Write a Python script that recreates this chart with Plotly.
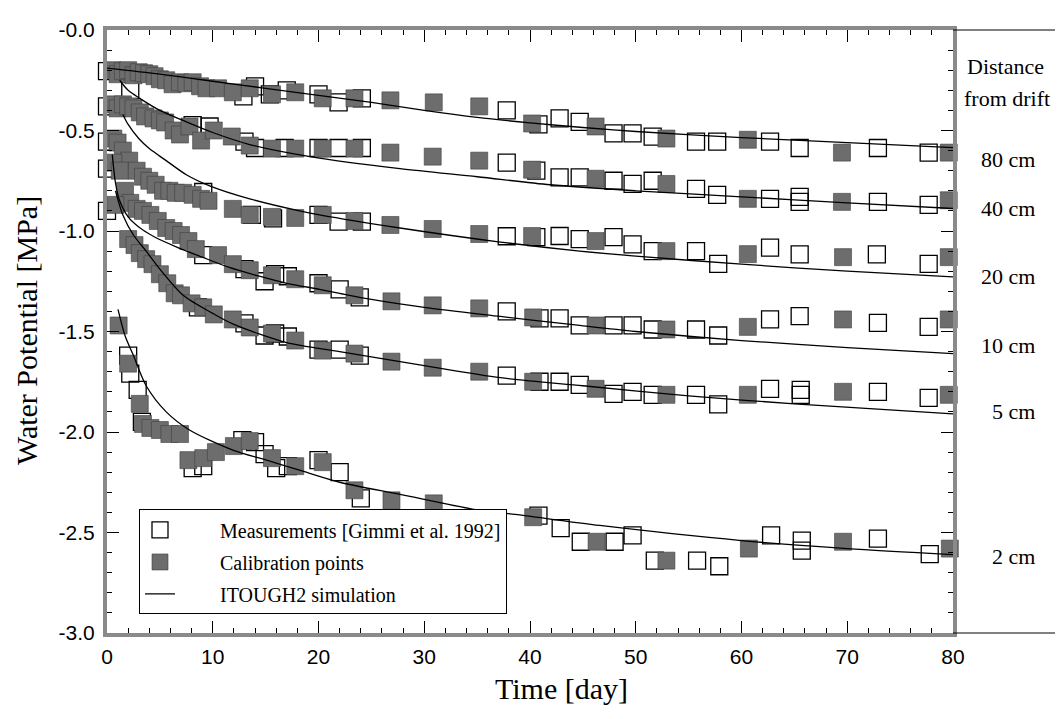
import plotly.graph_objects as go

# ---------------- data ----------------
distances = ["80 cm", "40 cm", "20 cm", "10 cm", "5 cm", "2 cm"]

# 80 cm
meas_t_80 = [0.0, 2.2, 12.9, 14.0, 15.4, 17.0, 20.0, 21.9, 24.1, 37.8, 40.8, 42.8, 44.7, 47.9, 49.7, 51.6, 55.7, 57.7, 62.7, 65.5, 72.9, 77.7]
meas_v_80 = [-0.205, -0.30, -0.33, -0.28, -0.32, -0.30, -0.32, -0.36, -0.34, -0.40, -0.47, -0.44, -0.457, -0.514, -0.514, -0.53, -0.555, -0.555, -0.555, -0.587, -0.587, -0.61]
calib_t_80 = [0.5, 1.0, 1.5, 2.0, 2.5, 3.0, 3.5, 4.0, 4.5, 5.0, 5.6, 6.2, 6.9, 7.5, 8.1, 8.8, 9.4, 10.5, 11.9, 13.5, 15.6, 17.8, 20.4, 23.4, 26.8, 30.9, 35.2, 40.2, 46.2, 52.9, 60.6, 69.5, 79.6]
calib_v_80 = [-0.20, -0.22, -0.205, -0.20, -0.225, -0.21, -0.215, -0.22, -0.23, -0.245, -0.25, -0.27, -0.26, -0.265, -0.26, -0.28, -0.29, -0.29, -0.31, -0.29, -0.32, -0.31, -0.34, -0.34, -0.35, -0.36, -0.38, -0.465, -0.48, -0.54, -0.546, -0.61, -0.61]
sim_t_80 = [0, 5, 10, 15, 20, 25, 30, 35, 40, 45, 50, 60, 70, 80]
sim_v_80 = [-0.19, -0.22, -0.255, -0.29, -0.325, -0.36, -0.40, -0.435, -0.462, -0.485, -0.505, -0.535, -0.56, -0.585]

# 40 cm
meas_t_40 = [0.0, 8.1, 9.7, 13.0, 14.0, 16.8, 20.0, 21.9, 24.1, 37.8, 40.6, 42.8, 44.7, 47.9, 49.7, 51.6, 55.7, 57.7, 62.7, 65.5, 65.5, 72.9, 77.7]
meas_v_40 = [-0.38, -0.473, -0.48, -0.555, -0.587, -0.587, -0.587, -0.587, -0.587, -0.66, -0.70, -0.733, -0.733, -0.75, -0.766, -0.75, -0.79, -0.82, -0.84, -0.83, -0.855, -0.855, -0.87]
calib_t_40 = [0.5, 1.0, 1.5, 2.0, 2.5, 3.1, 3.6, 4.4, 5.0, 5.5, 6.3, 6.9, 7.8, 8.9, 10.1, 11.8, 13.5, 15.6, 17.8, 20.4, 23.4, 26.8, 30.8, 35.2, 40.2, 46.2, 52.9, 60.6, 69.5, 79.6]
calib_v_40 = [-0.37, -0.39, -0.37, -0.38, -0.39, -0.41, -0.43, -0.44, -0.45, -0.46, -0.50, -0.52, -0.48, -0.55, -0.50, -0.53, -0.575, -0.59, -0.59, -0.59, -0.59, -0.61, -0.63, -0.65, -0.695, -0.74, -0.766, -0.84, -0.855, -0.847]
sim_t_40 = [1.2, 2.0, 3.1, 5.0, 7.2, 10.0, 13.5, 19.2, 27.7, 35.0, 41.9, 50.0, 60.0, 70.0, 80.0]
sim_v_40 = [-0.25, -0.30, -0.34, -0.40, -0.45, -0.51, -0.57, -0.63, -0.69, -0.73, -0.77, -0.80, -0.83, -0.86, -0.888]

# 20 cm
meas_t_20 = [0.0, 9.1, 13.7, 15.7, 20.0, 21.9, 24.1, 37.8, 40.6, 42.8, 44.7, 47.9, 49.7, 51.6, 55.7, 57.8, 62.7, 65.5, 72.8, 77.7]
meas_v_20 = [-0.555, -0.806, -0.92, -0.937, -0.92, -0.953, -0.953, -1.026, -1.03, -1.025, -1.04, -1.03, -1.067, -1.10, -1.10, -1.164, -1.083, -1.116, -1.116, -1.164]
calib_t_20 = [0.6, 1.0, 1.5, 2.1, 2.8, 3.4, 4.0, 4.6, 5.3, 5.9, 6.5, 7.2, 8.1, 8.9, 9.6, 11.9, 13.5, 15.6, 17.8, 20.4, 23.4, 26.8, 30.8, 35.2, 40.2, 46.2, 52.9, 60.6, 69.6, 79.6]
calib_v_20 = [-0.54, -0.56, -0.60, -0.65, -0.70, -0.73, -0.75, -0.77, -0.80, -0.80, -0.81, -0.81, -0.82, -0.84, -0.85, -0.89, -0.92, -0.93, -0.935, -0.92, -0.95, -0.97, -0.99, -1.015, -1.025, -1.05, -1.10, -1.115, -1.13, -1.13]
sim_t_20 = [1.5, 2.0, 3.0, 4.0, 5.6, 7.5, 9.7, 13.5, 18.2, 20.1, 27.7, 37.2, 44.7, 50.0, 60.0, 70.0, 80.0]
sim_v_20 = [-0.42, -0.47, -0.54, -0.59, -0.65, -0.72, -0.775, -0.84, -0.90, -0.92, -0.985, -1.055, -1.10, -1.125, -1.165, -1.20, -1.228]

# 10 cm
meas_t_10 = [0.0, 9.1, 13.0, 14.9, 15.9, 17.1, 20.0, 22.0, 23.9, 37.8, 40.9, 42.8, 44.7, 47.9, 49.7, 51.6, 55.7, 57.8, 62.7, 65.5, 72.9, 77.7]
meas_v_10 = [-0.69, -1.12, -1.19, -1.25, -1.215, -1.225, -1.26, -1.29, -1.33, -1.40, -1.435, -1.435, -1.47, -1.47, -1.47, -1.49, -1.49, -1.52, -1.44, -1.424, -1.457, -1.477]
calib_t_10 = [0.6, 1.2, 1.7, 2.2, 2.8, 3.4, 4.1, 4.8, 5.6, 6.3, 7.0, 7.7, 8.4, 10.5, 11.9, 13.5, 15.6, 17.8, 20.4, 23.4, 26.9, 30.8, 35.2, 40.3, 46.2, 52.9, 60.6, 69.6, 79.6]
calib_v_10 = [-0.66, -0.70, -0.80, -0.86, -0.89, -0.90, -0.92, -0.95, -0.985, -1.0, -1.02, -1.05, -1.09, -1.12, -1.165, -1.195, -1.22, -1.24, -1.27, -1.32, -1.35, -1.37, -1.385, -1.43, -1.47, -1.49, -1.477, -1.44, -1.44]
sim_t_10 = [0.5, 0.8, 1.2, 2.0, 3.0, 4.5, 6.6, 9.0, 11.5, 14.4, 17.0, 20.1, 22.0, 25.0, 30.0, 37.2, 44.7, 50.0, 60.0, 70.0, 80.0]
sim_v_10 = [-0.62, -0.76, -0.85, -0.93, -0.98, -1.03, -1.08, -1.13, -1.18, -1.225, -1.26, -1.29, -1.31, -1.34, -1.38, -1.425, -1.47, -1.50, -1.545, -1.58, -1.61]

# 5 cm
meas_t_5 = [0.0, 8.6, 13.0, 14.9, 15.9, 17.1, 20.0, 22.0, 23.9, 37.8, 40.9, 42.8, 44.7, 47.9, 49.7, 51.6, 55.7, 57.8, 62.7, 65.6, 65.6, 72.9, 77.7]
meas_v_5 = [-0.90, -1.38, -1.46, -1.52, -1.51, -1.525, -1.59, -1.59, -1.62, -1.72, -1.75, -1.75, -1.766, -1.81, -1.80, -1.815, -1.815, -1.863, -1.785, -1.79, -1.815, -1.80, -1.83]
calib_t_5 = [0.8, 2.0, 2.6, 3.1, 3.7, 4.3, 5.0, 5.7, 6.4, 7.0, 8.0, 9.1, 10.1, 11.9, 13.5, 15.6, 17.8, 20.4, 23.4, 26.9, 30.8, 35.2, 40.3, 46.2, 52.9, 60.6, 69.6, 79.6]
calib_v_5 = [-0.87, -1.04, -1.07, -1.11, -1.14, -1.165, -1.215, -1.26, -1.31, -1.32, -1.36, -1.38, -1.415, -1.44, -1.48, -1.51, -1.545, -1.595, -1.61, -1.65, -1.68, -1.70, -1.75, -1.785, -1.815, -1.815, -1.80, -1.815]
sim_t_5 = [0.8, 1.5, 2.5, 3.7, 5.0, 7.2, 10.0, 12.0, 17.0, 22.0, 30.0, 37.2, 45.0, 55.0, 65.0, 80.0]
sim_v_5 = [-0.80, -0.92, -1.02, -1.10, -1.19, -1.32, -1.41, -1.465, -1.555, -1.60, -1.67, -1.73, -1.77, -1.82, -1.86, -1.91]

# 2 cm
meas_t_2 = [2.0, 2.2, 2.9, 3.3, 8.1, 9.1, 12.8, 14.0, 14.9, 16.0, 17.1, 20.0, 22.0, 24.0, 40.8, 42.9, 44.8, 48.0, 49.7, 51.8, 55.8, 57.9, 62.8, 65.7, 65.7, 72.9, 77.8]
meas_v_2 = [-1.62, -1.71, -1.79, -1.95, -2.18, -2.17, -2.04, -2.05, -2.11, -2.18, -2.17, -2.14, -2.20, -2.33, -2.416, -2.478, -2.546, -2.546, -2.514, -2.64, -2.64, -2.668, -2.514, -2.54, -2.59, -2.53, -2.608]
calib_t_2 = [1.1, 2.0, 3.1, 3.4, 4.1, 5.0, 5.9, 6.9, 7.7, 9.1, 10.3, 12.0, 13.5, 15.6, 17.8, 20.4, 23.4, 26.9, 30.9, 40.3, 46.3, 52.9, 60.7, 69.6, 79.7]
calib_v_2 = [-1.47, -1.66, -1.86, -1.96, -1.98, -1.99, -2.01, -2.01, -2.14, -2.13, -2.10, -2.07, -2.045, -2.13, -2.17, -2.15, -2.29, -2.34, -2.355, -2.424, -2.546, -2.64, -2.58, -2.546, -2.58]
sim_t_2 = [1.04, 1.7, 2.5, 3.7, 5.6, 7.8, 11.9, 15.1, 18.2, 22.0, 27.7, 35.3, 38.6, 46.6, 60.0, 70.0, 80.0]
sim_v_2 = [-1.39, -1.52, -1.62, -1.77, -1.90, -1.99, -2.09, -2.14, -2.19, -2.25, -2.31, -2.39, -2.41, -2.465, -2.54, -2.58, -2.61]

x_tick_vals = [0, 10, 20, 30, 40, 50, 60, 70, 80]
y_tick_vals = [0, -0.5, -1.0, -1.5, -2.0, -2.5, -3.0]
y_tick_text = ["-0.0", "-0.5", "-1.0", "-1.5", "-2.0", "-2.5", "-3.0"]

series = [
    (meas_t_80, meas_v_80, calib_t_80, calib_v_80, sim_t_80, sim_v_80),
    (meas_t_40, meas_v_40, calib_t_40, calib_v_40, sim_t_40, sim_v_40),
    (meas_t_20, meas_v_20, calib_t_20, calib_v_20, sim_t_20, sim_v_20),
    (meas_t_10, meas_v_10, calib_t_10, calib_v_10, sim_t_10, sim_v_10),
    (meas_t_5, meas_v_5, calib_t_5, calib_v_5, sim_t_5, sim_v_5),
    (meas_t_2, meas_v_2, calib_t_2, calib_v_2, sim_t_2, sim_v_2),
]

# ---------------- figure ----------------
SERIF = "Liberation Serif, Times New Roman, serif"
SANS = "Liberation Sans, Arial, Helvetica, sans-serif"
FILL = "#6d6d6d"
MSIZE = 17
PAD = "\u00a0" * 8

fig = go.Figure()

for i, (mt, mv, ct, cv, st, sv) in enumerate(series):
    fig.add_trace(go.Scatter(
        x=mt, y=mv, mode="markers", name=PAD + "Measurements [Gimmi et al. 1992]",
        legendgroup="meas", legendrank=1, showlegend=(i == 0), cliponaxis=False,
        marker=dict(symbol="square-open", size=MSIZE, color="black", line=dict(width=1.3, color="black")),
    ))
for i, (mt, mv, ct, cv, st, sv) in enumerate(series):
    fig.add_trace(go.Scatter(
        x=ct, y=cv, mode="markers", name=PAD + "Calibration points",
        legendgroup="calib", legendrank=2, showlegend=(i == 0), cliponaxis=False,
        marker=dict(symbol="square", size=MSIZE, color=FILL, line=dict(width=0.6, color="#404040")),
    ))
for i, (mt, mv, ct, cv, st, sv) in enumerate(series):
    fig.add_trace(go.Scatter(
        x=st, y=sv, mode="lines", name=PAD + "ITOUGH2 simulation",
        legendgroup="sim", legendrank=3, showlegend=(i == 0),
        line=dict(color="black", width=1.3, shape="spline", smoothing=0.8),
    ))

axis_common = dict(
    showgrid=False, zeroline=False, showline=True, linecolor="#8a8a8a", linewidth=4,
    mirror="ticks", ticks="inside", tickcolor="black", tickwidth=1,
)

fig.update_xaxes(
    range=[0, 80], tickmode="array", tickvals=x_tick_vals, ticklen=12,
    tickfont=dict(family=SANS, size=21, color="black"), ticklabelstandoff=2,
    minor=dict(dtick=2, tick0=0, ticks="inside", ticklen=5, tickcolor="black", showgrid=False),
    **axis_common,
)
fig.update_yaxes(
    range=[-3, 0], tickmode="array", tickvals=y_tick_vals, ticktext=y_tick_text, ticklen=12,
    tickfont=dict(family=SANS, size=21, color="black"), ticklabelstandoff=4,
    minor=dict(dtick=0.1, tick0=0, ticks="inside", ticklen=5, tickcolor="black", showgrid=False),
    **axis_common,
)

# page body has an 8px margin: positions below are page pixels converted to paper coords
def px(xabs):
    return (xabs - 107) / 846

def py(yabs):
    return (633 - yabs) / 615

annotations = [
    dict(text="Water Potential [MPa]", x=px(26), y=py(325), xref="paper", yref="paper",
         textangle=-90, showarrow=False, font=dict(family=SERIF, size=30, color="black"),
         xanchor="center", yanchor="middle"),
    dict(text="Time [day]", x=px(561), y=py(690), xref="paper", yref="paper",
         showarrow=False, font=dict(family=SERIF, size=30, color="black"),
         xanchor="center", yanchor="middle"),
    dict(text="Distance", x=px(1006), y=py(55), xref="paper", yref="paper",
         showarrow=False, font=dict(family=SERIF, size=22, color="black"), xanchor="center", yanchor="middle"),
    dict(text="from drift", x=px(1007), y=py(88), xref="paper", yref="paper",
         showarrow=False, font=dict(family=SERIF, size=22, color="black"), xanchor="center", yanchor="middle"),
]
label_px = [150, 200, 269, 340, 407, 555]
for name, ypix in zip(distances, label_px):
    annotations.append(dict(text=name, x=px(1037), y=py(ypix), xref="paper", yref="paper",
                            showarrow=False, font=dict(family=SERIF, size=22, color="black"),
                            xanchor="right", yanchor="middle"))

fig.update_layout(
    width=1055, height=711,
    margin=dict(l=99, r=110, t=10, b=86),
    paper_bgcolor="white", plot_bgcolor="white",
    showlegend=True,
    legend=dict(x=px(139), y=py(507), xanchor="left", yanchor="top",
                bgcolor="white", bordercolor="black", borderwidth=1,
                font=dict(family=SERIF, size=20, color="black"),
                tracegroupgap=3, itemsizing="trace"),
    annotations=annotations,
    shapes=[
        dict(type="line", xref="paper", yref="paper", x0=1.0, x1=px(1063), y0=1.0, y1=1.0,
             line=dict(color="black", width=1)),
        dict(type="line", xref="paper", yref="paper", x0=1.0, x1=px(1063), y0=0.0, y1=0.0,
             line=dict(color="black", width=1)),
    ],
)

fig.write_html("out.html")
